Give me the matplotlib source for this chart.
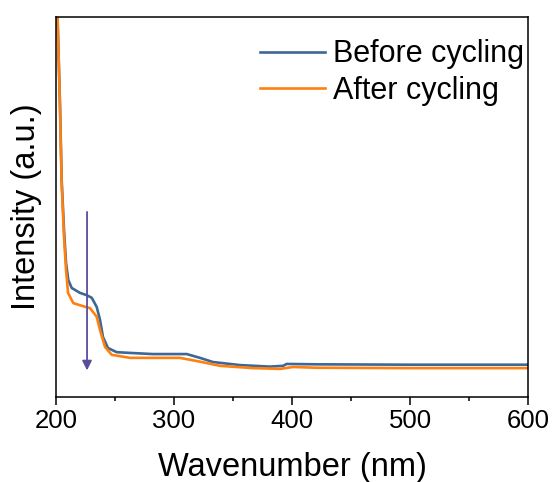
import numpy as np
import matplotlib
matplotlib.use("Agg")
import matplotlib.pyplot as plt

plt.rcParams['font.family'] = ['Liberation Sans', 'DejaVu Sans']

wl_before = [200.5, 201.3, 203.3, 204.8, 206.8, 208.5, 210.4, 213.3, 220.3, 226, 230.3,
             234.5, 237.3, 239.8, 244, 251.4, 262.7, 282, 310.8, 322, 333, 356, 381,
             392.4, 395.5, 420, 500, 600]
int_before = [1.10, 1.0, 0.78, 0.571, 0.439, 0.353, 0.308, 0.287, 0.274, 0.268, 0.261,
              0.237, 0.203, 0.158, 0.129, 0.118, 0.116, 0.113, 0.113, 0.103, 0.092, 0.084,
              0.080, 0.082, 0.087, 0.086, 0.085, 0.085]

wl_after = [200.5, 201.3, 203.3, 204.8, 206.8, 208.5, 210.2, 214.7, 222.9, 228.8, 234.5,
            237.3, 241.5, 247.2, 262.7, 305, 322, 339, 367, 390, 401, 420, 500, 600]
int_after = [1.10, 1.0, 0.77, 0.56, 0.42, 0.335, 0.274, 0.247, 0.239, 0.234, 0.211,
             0.176, 0.132, 0.111, 0.103, 0.103, 0.093, 0.082, 0.076, 0.074, 0.079, 0.077,
             0.076, 0.076]

labels = ["Before cycling", "After cycling"]
colors = ["#3c6796", "#ff800e"]

fig = plt.figure(figsize=(5.55, 4.82), dpi=100)
ax = fig.add_axes([56 / 555, 85 / 482, 472 / 555, 380 / 482])

ax.plot(wl_before, int_before, color=colors[0], lw=1.9, label=labels[0])
ax.plot(wl_after, int_after, color=colors[1], lw=1.9, label=labels[1])

# arrow showing the decrease
ax.annotate("", xy=(226.3, 0.07), xytext=(226.3, 0.487),
            arrowprops=dict(arrowstyle="-|>", color="#5a4d9e", lw=1.3,
                            mutation_scale=14, shrinkA=0, shrinkB=0))

ax.set_xlim(200, 600)
ax.set_ylim(0, 1)
ax.set_xticks([200, 300, 400, 500, 600])
ax.set_xticks([250, 350, 450, 550], minor=True)
ax.set_yticks([])
ax.tick_params(axis='x', which='major', direction='out', length=6, width=1.1, labelsize=18.5, pad=3)
ax.tick_params(axis='x', which='minor', direction='out', length=3, width=1.1)
for s in ax.spines.values():
    s.set_linewidth(1.1)

ax.set_xlabel("Wavenumber (nm)", fontsize=23.5, labelpad=13)
ax.set_ylabel("Intensity (a.u.)", fontsize=23.5, labelpad=10)

ax.legend(loc='upper left', bbox_to_anchor=(0.432, 0.941), frameon=False, fontsize=22,
          handlelength=2.12, handletextpad=0.26, labelspacing=0.2, borderpad=0,
          borderaxespad=0)

fig.savefig("out.png", dpi=100)
